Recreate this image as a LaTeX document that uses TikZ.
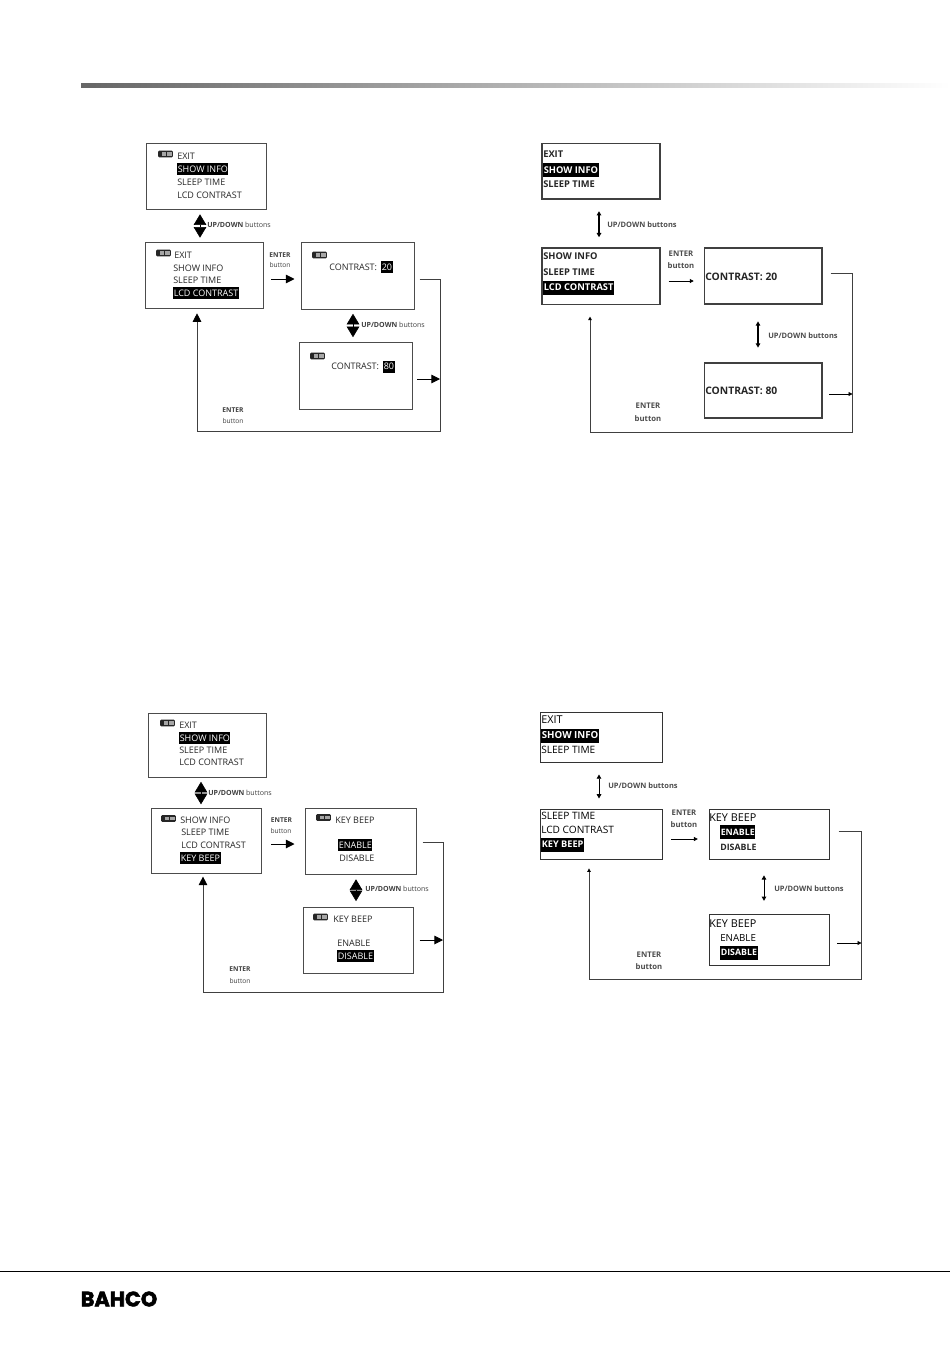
\documentclass[tikz,border=0pt]{standalone}
\usepackage{fontspec}
\setmainfont{Open Sans}
\newfontfamily\logofont[FakeBold=2.5]{Poppins Bold}
\usetikzlibrary{arrows.meta,fit}
\tikzset{
 lcd/.style={draw=black!70,line width=.75pt,inner sep=0pt,fill=white},
 lcdb/.style={draw=black!75,line width=1.1pt,inner sep=0pt,fill=white},
 menu/.style={anchor=west,inner sep=0pt,font=\fontsize{6.75pt}{8pt}\selectfont,text=black!85},
 menub/.style={anchor=west,inner sep=0pt,font=\fontsize{7pt}{8pt}\selectfont\bfseries,text=black!85},
 menubw/.style={menub,font=\fontsize{7.75pt}{8pt}\selectfont\bfseries},
 menuc/.style={anchor=west,inner sep=0pt,font=\fontsize{7.6pt}{8pt}\selectfont,text=black},
 menuk/.style={menuc,font=\fontsize{8.1pt}{8pt}\selectfont},
 sel/.style={menu,fill=black,text=white,inner xsep=.4pt,minimum height=9pt},
 selb/.style={menub,fill=black,text=white,inner xsep=.4pt,minimum height=10.5pt},
 lab/.style={anchor=west,inner sep=0pt,font=\fontsize{5.3pt}{6pt}\selectfont,text=black!75},
 labr/.style={anchor=west,inner sep=0pt,font=\fontsize{5.6pt}{6pt}\selectfont,text=black!70},
 labc/.style={inner sep=0pt,font=\fontsize{5pt}{6pt}\selectfont,text=black!75},
 labd/.style={inner sep=0pt,font=\fontsize{5.8pt}{6pt}\selectfont,text=black!70},
 batt/.style={fill=black!85,rounded corners=.8pt,inner sep=0pt,minimum width=11.2pt,minimum height=4.9pt,
  path picture={
   \fill[black!35,sharp corners] ([xshift=2.6pt,yshift=1pt]path picture bounding box.south west) rectangle ++(3.4pt,2.9pt);
   \fill[black!35,sharp corners] ([xshift=6.7pt,yshift=1pt]path picture bounding box.south west) rectangle ++(3.4pt,2.9pt);}},
 udbig/.style={line width=.4pt,black,{Triangle[length=8pt,width=9.5pt]}-{Triangle[length=8pt,width=9.5pt]}},
 udsm/.style={line width=1pt,black,{Triangle[length=3.2pt,width=3.4pt]}-{Triangle[length=3.2pt,width=3.4pt]}},
 enbig/.style={line width=.7pt,black,-{Triangle[length=6.5pt,width=6.5pt]}},
 ensm/.style={line width=.7pt,black,-{Triangle[length=3pt,width=3pt]}},
 retbig/.style={line width=.6pt,black!75,-{Triangle[length=6.5pt,width=6.5pt,black]}},
 retsm/.style={line width=.6pt,black!75,-{Triangle[length=2.6pt,width=2.6pt,black]}},
}
\begin{document}
\begin{tikzpicture}[x=.75pt,y=-.75pt]
\useasboundingbox (0,0) rectangle (950,1348);
\fill[white] (0,0) rectangle (950,1348);
% header bar and footer
\shade[left color=black!60,middle color=black!32,right color=white] (81,84) rectangle (950,88);
\draw[black,line width=.75pt] (0,1271) -- (950,1271);
\node[inner sep=0pt,font=\fontsize{15.6pt}{16pt}\logofont,anchor=center] (logo) at (119,1299) {BAHCO};

% ========== top left ==========
\node[lcd,fit={(146,143.5)(266,209.5)}] (a1) {};
\node[lcd,fit={(145,242.5)(263.5,308)}] (b1) {};
\node[lcd,fit={(301,242.5)(414,309)}] (c1) {};
\node[lcd,fit={(299,342)(412,409)}] (d1) {};
\node[batt] (a1i) at (165.5,154) {};
\node[menu] (a1t1) at (177,156.5) {EXIT};
\node[sel]  (a1t2) at (177,169.5) {SHOW INFO};
\node[menu] (a1t3) at (177,182) {SLEEP TIME};
\node[menu] (a1t4) at (177,195) {LCD CONTRAST};
\node[batt] (b1i) at (163.5,253) {};
\node[menu] (b1t1) at (174,255) {EXIT};
\node[menu] (b1t2) at (173,268) {SHOW INFO};
\node[menu] (b1t3) at (173,280.5) {SLEEP TIME};
\node[sel]  (b1t4) at (173,293) {LCD CONTRAST};
\node[batt] (c1i) at (319.5,255) {};
\node[menu] (c1t1) at (329,267) {CONTRAST:};
\node[sel]  (c1t2) at (381,267) {20};
\node[batt] (d1i) at (317.5,356) {};
\node[menu] (d1t1) at (331,366) {CONTRAST:};
\node[sel]  (d1t2) at (383,366.5) {80};
\node[lab]  (l1a) at (207,225) {\textbf{UP/DOWN} buttons};
\node[lab]  (l1b) at (361,324.5) {\textbf{UP/DOWN} buttons};
\node[labc] (l1c) at (280,255) {\textbf{ENTER}};
\node[labc] (l1d) at (280,265) {button};
\node[labc] (l1e) at (233,410) {\textbf{ENTER}};
\node[labc] (l1f) at (233,420.5) {button};
\coordinate (x1a) at (200,0);
\coordinate (x1b) at (353,0);
\coordinate (y1a) at (0,279);
\coordinate (y1b) at (0,279);
\coordinate (y1c) at (0,379);
\coordinate (x1r) at (440,0);
\coordinate (y1r) at (0,431);
\coordinate (x1l) at (197,0);
\draw[udbig,shorten <=3.2pt,shorten >=3.2pt] (a1.south -| x1a) -- (b1.north -| x1a);
\draw[udbig,shorten <=3.2pt,shorten >=3.2pt] (c1.south -| x1b) -- (d1.north -| x1b);
\draw[enbig,shorten <=5.5pt,shorten >=4.5pt] (b1.east |- y1a) -- (c1.west |- y1a);
\draw[retbig,shorten <=3.8pt,shorten >=3.6pt] (c1.east |- y1b) -- (x1r |- y1b) -- (x1r |- y1r) -- (x1l |- y1r) -- (b1.south -| x1l);
\draw[enbig,shorten <=3.5pt] (d1.east |- y1c) -- (x1r |- y1c);

% ========== top right ==========
\node[lcdb,fit={(542,143.5)(660,199)}] (a2) {};
\node[lcdb,fit={(542,248)(660,304.5)}] (b2) {};
\node[lcdb,fit={(704.5,248)(822,304)}] (c2) {};
\node[lcdb,fit={(704.5,363)(822,418)}] (d2) {};
\node[menub] (a2t1) at (543,154) {EXIT};
\node[selb]  (a2t2) at (543,170) {SHOW INFO};
\node[menub] (a2t3) at (543,184.5) {SLEEP TIME};
\node[menub] (b2t1) at (543,256.5) {SHOW INFO};
\node[menub] (b2t2) at (543,272) {SLEEP TIME};
\node[selb]  (b2t3) at (543,287.5) {LCD CONTRAST};
\node[menubw] (c2t1) at (705,277) {CONTRAST: 20};
\node[menubw] (d2t1) at (705,391) {CONTRAST: 80};
\node[labr] (l2a) at (607,224.5) {\textbf{UP/DOWN buttons}};
\node[labr] (l2b) at (768,335.5) {\textbf{UP/DOWN buttons}};
\node[labd] (l2c) at (681,253.5) {\textbf{ENTER}};
\node[labd] (l2d) at (681,266) {\textbf{button}};
\node[labd] (l2e) at (648,406) {\textbf{ENTER}};
\node[labd] (l2f) at (648,419) {\textbf{button}};
\coordinate (x2a) at (599,0);
\coordinate (x2b) at (758,0);
\coordinate (y2a) at (0,281);
\coordinate (y2b) at (0,273);
\coordinate (y2c) at (0,394);
\coordinate (x2r) at (852.5,0);
\coordinate (y2r) at (0,432);
\coordinate (x2l) at (590,0);
\draw[udsm,shorten <=8.6pt,shorten >=7.5pt] (a2.south -| x2a) -- (b2.north -| x2a);
\draw[udsm,shorten <=12.5pt,shorten >=11pt] (c2.south -| x2b) -- (d2.north -| x2b);
\draw[ensm,shorten <=6pt,shorten >=7.5pt] (b2.east |- y2a) -- (c2.west |- y2a);
\draw[retsm,line width=.7pt,shorten <=6pt,shorten >=8.5pt] (c2.east |- y2b) -- (x2r |- y2b) -- (x2r |- y2r) -- (x2l |- y2r) -- (b2.south -| x2l);
\draw[ensm,line width=.6pt,shorten <=5pt] (d2.east |- y2c) -- (x2r |- y2c);

% ========== bottom left ==========
\node[lcd,fit={(148,713)(266,777)}] (a3) {};
\node[lcd,fit={(151.5,808)(261.5,873)}] (b3) {};
\node[lcd,fit={(305,808)(416,874)}] (c3) {};
\node[lcd,fit={(303,907)(413,973)}] (d3) {};
\node[batt] (a3i) at (167.5,723) {};
\node[menu] (a3t1) at (179,725) {EXIT};
\node[sel]  (a3t2) at (179,738) {SHOW INFO};
\node[menu] (a3t3) at (179,750) {SLEEP TIME};
\node[menu] (a3t4) at (179,762.5) {LCD CONTRAST};
\node[batt] (b3i) at (168.5,818.5) {};
\node[menu] (b3t1) at (180,820.5) {SHOW INFO};
\node[menu] (b3t2) at (181,832.5) {SLEEP TIME};
\node[menu] (b3t3) at (181,845) {LCD CONTRAST};
\node[sel]  (b3t4) at (180,858) {KEY BEEP};
\node[batt] (c3i) at (323.5,817.5) {};
\node[menu] (c3t1) at (335,820.5) {KEY BEEP};
\node[sel]  (c3t2) at (338,845) {ENABLE};
\node[menu] (c3t3) at (339,858) {DISABLE};
\node[batt] (d3i) at (320.5,917) {};
\node[menu] (d3t1) at (333,919) {KEY BEEP};
\node[menu] (d3t2) at (337,943.5) {ENABLE};
\node[sel]  (d3t3) at (337,956) {DISABLE};
\node[lab]  (l3a) at (208,792.5) {\textbf{UP/DOWN} buttons};
\node[lab]  (l3b) at (365,888.5) {\textbf{UP/DOWN} buttons};
\node[labc] (l3c) at (281.5,820.5) {\textbf{ENTER}};
\node[labc] (l3d) at (281,830.5) {button};
\node[labc] (l3e) at (240,969.5) {\textbf{ENTER}};
\node[labc] (l3f) at (240,980.5) {button};
\coordinate (x3a) at (201,0);
\coordinate (x3b) at (356,0);
\coordinate (y3a) at (0,844);
\coordinate (y3b) at (0,842);
\coordinate (y3c) at (0,940);
\coordinate (x3r) at (443,0);
\coordinate (y3r) at (0,992);
\coordinate (x3l) at (203,0);
\draw[udbig,shorten <=3.2pt,shorten >=2.4pt] (a3.south -| x3a) -- (b3.north -| x3a);
\draw[udbig,shorten <=3.6pt,shorten >=4pt] (c3.south -| x3b) -- (d3.north -| x3b);
\draw[enbig,shorten <=7pt,shorten >=7.5pt] (b3.east |- y3a) -- (c3.west |- y3a);
\draw[retbig,shorten <=4.5pt,shorten >=2.3pt] (c3.east |- y3b) -- (x3r |- y3b) -- (x3r |- y3r) -- (x3l |- y3r) -- (b3.south -| x3l);
\draw[enbig,shorten <=4.5pt] (d3.east |- y3c) -- (x3r |- y3c);

% ========== bottom right ==========
\node[lcd,draw=black!80,fit={(540.5,712)(662,762.5)}] (a4) {};
\node[lcd,draw=black!80,fit={(540.5,809)(662,859.5)}] (b4) {};
\node[lcd,draw=black!80,fit={(709,809)(829.5,859.5)}] (c4) {};
\node[lcd,draw=black!80,fit={(709,914)(829.5,965)}] (d4) {};
\node[menuk] (a4t1) at (541,720) {EXIT};
\node[selb,font=\fontsize{7.3pt}{8pt}\selectfont\bfseries] (a4t2) at (541,735.5) {SHOW INFO};
\node[menuc] (a4t3) at (541,750) {SLEEP TIME};
\node[menuc] (b4t1) at (541,816) {SLEEP TIME};
\node[menuc] (b4t2) at (541,830) {LCD CONTRAST};
\node[selb,font=\fontsize{6.9pt}{8pt}\selectfont\bfseries] (b4t3) at (541,844.5) {KEY BEEP};
\node[menuk] (c4t1) at (709,817.5) {KEY BEEP};
\node[selb,font=\fontsize{6.6pt}{8pt}\selectfont\bfseries] (c4t2) at (720,832) {ENABLE};
\node[menub,font=\fontsize{6.6pt}{8pt}\selectfont\bfseries] (c4t3) at (720,847) {DISABLE};
\node[menuk] (d4t1) at (709,924) {KEY BEEP};
\node[menuc,font=\fontsize{7.3pt}{8pt}\selectfont] (d4t2) at (720,938.5) {ENABLE};
\node[selb,font=\fontsize{6.6pt}{8pt}\selectfont\bfseries] (d4t3) at (720,952.5) {DISABLE};
\node[labr] (l4a) at (608,786) {\textbf{UP/DOWN buttons}};
\node[labr] (l4b) at (774,889) {\textbf{UP/DOWN buttons}};
\node[labd] (l4c) at (684,813) {\textbf{ENTER}};
\node[labd] (l4d) at (684,825) {\textbf{button}};
\node[labd] (l4e) at (649,954.5) {\textbf{ENTER}};
\node[labd] (l4f) at (649,966.5) {\textbf{button}};
\coordinate (x4a) at (599,0);
\coordinate (x4b) at (764,0);
\coordinate (y4a) at (0,839);
\coordinate (y4b) at (0,831);
\coordinate (y4c) at (0,943);
\coordinate (x4r) at (861.5,0);
\coordinate (y4r) at (0,979);
\coordinate (x4l) at (589,0);
\draw[udsm,line width=.7pt,shorten <=8.6pt,shorten >=7.5pt] (a4.south -| x4a) -- (b4.north -| x4a);
\draw[udsm,line width=.7pt,shorten <=11.5pt,shorten >=9.5pt] (c4.south -| x4b) -- (d4.north -| x4b);
\draw[ensm,shorten <=6.5pt,shorten >=8pt] (b4.east |- y4a) -- (c4.west |- y4a);
\draw[retsm,shorten <=6.5pt,shorten >=6.3pt] (c4.east |- y4b) -- (x4r |- y4b) -- (x4r |- y4r) -- (x4l |- y4r) -- (b4.south -| x4l);
\draw[ensm,line width=.6pt,shorten <=5.5pt] (d4.east |- y4c) -- (x4r |- y4c);
\end{tikzpicture}
\end{document}
